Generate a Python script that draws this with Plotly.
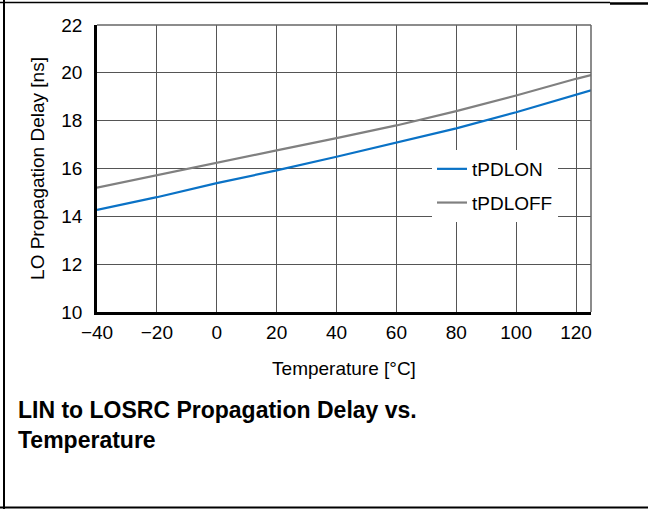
import plotly.graph_objects as go

temp = [-40, -20, 0, 20, 40, 60, 80, 100, 120, 125]
tpdlon = [14.27, 14.8, 15.39, 15.92, 16.49, 17.07, 17.68, 18.35, 19.1, 19.27]
tpdloff = [15.2, 15.73, 16.25, 16.76, 17.27, 17.8, 18.4, 19.05, 19.75, 19.91]

x_ticks = [-40, -20, 0, 20, 40, 60, 80, 100, 120]
y_ticks = [10, 12, 14, 16, 18, 20, 22]

W, H = 648, 509
ML, MR, MT, MB = 97, 57, 25, 197
PW, PH = W - ML - MR, H - MT - MB

def px(x):
    return (x - ML) / PW

def py(y):
    return (H - MB - y) / PH

FONT = "Liberation Sans, Arial, sans-serif"

fig = go.Figure()
fig.add_trace(go.Scatter(x=temp, y=tpdlon, mode="lines", name="tPDLON", legendgroup="a",
                         line=dict(color="#0a72c6", width=2.2)))
fig.add_trace(go.Scatter(x=temp, y=tpdloff, mode="lines", name="tPDLOFF", legendgroup="b",
                         line=dict(color="#808080", width=2.2)))

fig.update_layout(
    width=W, height=H,
    margin=dict(l=ML, r=MR, t=MT, b=MB),
    paper_bgcolor="white", plot_bgcolor="white",
    font=dict(family=FONT, color="black", size=19),
    legend=dict(x=px(432), y=py(150), xanchor="left", yanchor="top",
                bgcolor="white", font=dict(size=19), itemwidth=30,
                tracegroupgap=6),
    showlegend=True,
)
fig.update_xaxes(range=[-40, 125], tickvals=x_ticks, showgrid=True,
                 gridcolor="#555555", gridwidth=1,
                 showline=True, linecolor="black", linewidth=2.5,
                 ticks="", ticklabelstandoff=1, zeroline=False,
                 title=dict(text="Temperature [°C]", font=dict(size=19), standoff=21))
fig.update_yaxes(range=[10, 22], tickvals=y_ticks, showgrid=True,
                 gridcolor="#555555", gridwidth=1,
                 showline=True, linecolor="black", linewidth=2.5,
                 ticks="", ticklabelstandoff=8, zeroline=False,
                 title=dict(text="LO Propagation Delay [ns]", font=dict(size=19), standoff=12))

# top and right plot borders
fig.add_shape(type="line", xref="paper", yref="paper", x0=0, x1=1, y0=1, y1=1,
              line=dict(color="#666666", width=1.5))
fig.add_shape(type="line", xref="paper", yref="paper", x0=1, x1=1, y0=0, y1=1,
              line=dict(color="#666666", width=1.5))

# page frame
fig.add_shape(type="line", xref="paper", yref="paper", x0=px(4), x1=px(4), y0=py(0), y1=py(509),
              line=dict(color="black", width=2))
fig.add_shape(type="line", xref="paper", yref="paper", x0=px(0), x1=px(610), y0=py(2.5), y1=py(2.5),
              line=dict(color="black", width=1.5))
fig.add_shape(type="line", xref="paper", yref="paper", x0=px(610), x1=px(648), y0=py(3.5), y1=py(3.5),
              line=dict(color="black", width=2.5))
fig.add_shape(type="line", xref="paper", yref="paper", x0=px(0), x1=px(648), y0=py(507.5), y1=py(507.5),
              line=dict(color="black", width=2))

fig.add_annotation(xref="paper", yref="paper", x=px(16), y=py(395), xanchor="left", yanchor="top",
                   align="left", showarrow=False,
                   text="<b>LIN to LOSRC Propagation Delay vs.<br>Temperature</b>",
                   font=dict(family=FONT, size=23, color="black"))

fig.write_html("out.html")
